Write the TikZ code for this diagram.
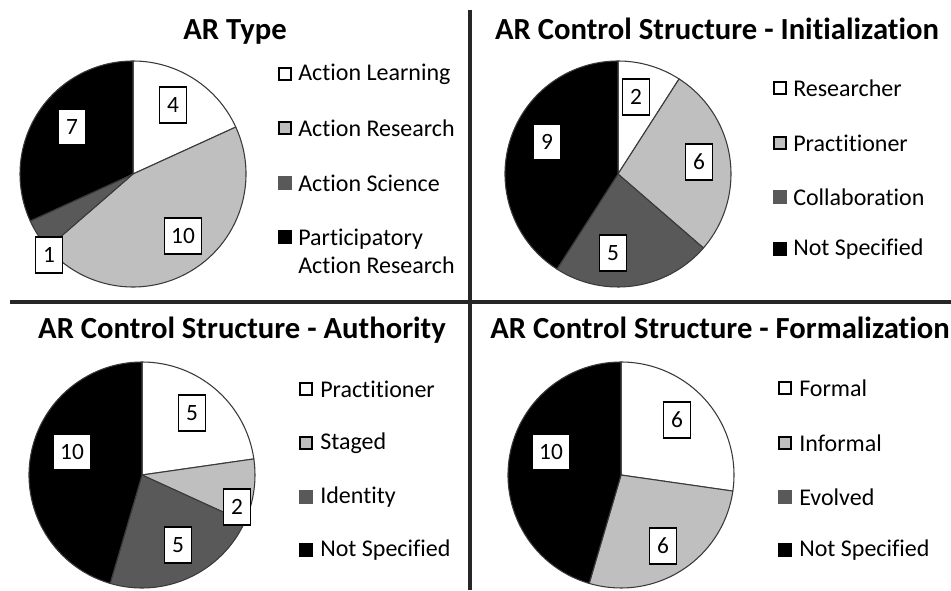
\documentclass[tikz,border=0pt]{standalone}
\usepackage{fontspec}
\setmainfont{Carlito}[Ligatures=NoCommon]
\definecolor{lgray}{HTML}{BFBFBF}
\definecolor{dgray}{HTML}{595959}
\definecolor{edge}{HTML}{3A3A3A}
\begin{document}
\begin{tikzpicture}[x=0.75pt,y=0.75pt,
  slice/.style={draw=edge,line width=0.8pt,line join=round},
  numbox/.style={draw=black,fill=white,line width=0.9pt,font=\fontsize{17.5}{19}\selectfont,
    minimum height=27pt,minimum width=20pt,inner xsep=5pt},
  legsq/.style={draw=black,line width=1.1pt,minimum size=9pt,inner sep=0pt},
  legtxt/.style={anchor=west,font=\fontsize{18}{21}\selectfont,inner sep=0pt},
  ttl/.style={font=\bfseries\fontsize{23}{26}\selectfont,inner sep=0pt},
  divider/.style={draw=black!85,line width=2.6pt}]
\useasboundingbox (0,0) rectangle (951,590);
\def\R{84.75pt}
% centres
\coordinate (p1) at (133,416);
\coordinate (p2) at (618,416);
\coordinate (p3) at (142,115);
\coordinate (p4) at (621,115);
% dividers
\coordinate (vt) at (470,580);
\coordinate (vb) at (470,0);
\coordinate (hl) at (10,288);
\coordinate (hr) at (951,288);
\draw[divider] (vt) -- (vb);
\draw[divider] (hl) -- (hr);
% pie 1
\foreach \a/\b/\c in {90/24.545/white,24.545/-139.09/lgray,-139.09/-155.45/dgray,-155.45/-270/black}
  \filldraw[slice,fill=\c] (p1) -- ++(\a:\R) arc[start angle=\a,end angle=\b,radius=\R] -- cycle;
% pie 2
\foreach \a/\b/\c in {90/57.27/white,57.27/-40.91/lgray,-40.91/-122.73/dgray,-122.73/-270/black}
  \filldraw[slice,fill=\c] (p2) -- ++(\a:\R) arc[start angle=\a,end angle=\b,radius=\R] -- cycle;
% pie 3
\foreach \a/\b/\c in {90/8.18/white,8.18/-24.55/lgray,-24.55/-106.36/dgray,-106.36/-270/black}
  \filldraw[slice,fill=\c] (p3) -- ++(\a:\R) arc[start angle=\a,end angle=\b,radius=\R] -- cycle;
% pie 4
\foreach \a/\b/\c in {90/-8.18/white,-8.18/-106.36/lgray,-106.36/-270/black}
  \filldraw[slice,fill=\c] (p4) -- ++(\a:\R) arc[start angle=\a,end angle=\b,radius=\R] -- cycle;
% value labels
\node[numbox] (n11) at (173,485) {4};
\node[numbox] (n12) at (183,354) {10};
\node[numbox] (n13) at (49,335) {1};
\node[numbox] (n14) at (72,463) {7};
\node[numbox] (n21) at (636,493) {2};
\node[numbox] (n22) at (699,428) {6};
\node[numbox] (n23) at (613,337) {5};
\node[numbox] (n24) at (547,448) {9};
\node[numbox] (n31) at (192,177) {5};
\node[numbox] (n32) at (237,83) {2};
\node[numbox] (n33) at (178,45) {5};
\node[numbox] (n34) at (72,138) {10};
\node[numbox] (n41) at (677,170) {6};
\node[numbox] (n42) at (663,44) {6};
\node[numbox] (n44) at (551,138) {10};
% titles
\node[ttl] (t1) at (235,558) {AR Type};
\node[ttl] (t2) at (717,561) {AR Control Structure - Initialization};
\node[ttl] (t3) at (242,260) {AR Control Structure - Authority};
\node[ttl,anchor=west] (t4) at (490,262) {AR Control Structure - Formalization};
% legend 1
\node[legsq,fill=white] (s11) at (285,516) {};
\node[legtxt] (l11) at (298,516) {Action Learning};
\node[legsq,fill=lgray] (s12) at (285,462) {};
\node[legtxt] (l12) at (298,462) {Action Research};
\node[legsq,fill=dgray,draw=dgray] (s13) at (285,407) {};
\node[legtxt] (l13) at (298,407) {Action Science};
\node[legsq,fill=black] (s14) at (285,353) {};
\node[legtxt,align=left] (l14) at (298,339) {Participatory\\Action Research};
% legend 2
\node[legsq,fill=white] (s21) at (780,502) {};
\node[legtxt] (l21) at (793,502) {Researcher};
\node[legsq,fill=lgray] (s22) at (780,447) {};
\node[legtxt] (l22) at (793,447) {Practitioner};
\node[legsq,fill=dgray,draw=dgray] (s23) at (780,393) {};
\node[legtxt] (l23) at (793,393) {Collaboration};
\node[legsq,fill=black] (s24) at (780,341) {};
\node[legtxt] (l24) at (793,341) {Not Specified};
% legend 3
\node[legsq,fill=white] (s31) at (306,201) {};
\node[legtxt] (l31) at (320,201) {Practitioner};
\node[legsq,fill=lgray] (s32) at (306,147) {};
\node[legtxt] (l32) at (320,147) {Staged};
\node[legsq,fill=dgray,draw=dgray] (s33) at (306,93) {};
\node[legtxt] (l33) at (320,93) {Identity};
\node[legsq,fill=black] (s34) at (306,40) {};
\node[legtxt] (l34) at (320,40) {Not Specified};
% legend 4
\node[legsq,fill=white] (s41) at (785,202) {};
\node[legtxt] (l41) at (799,202) {Formal};
\node[legsq,fill=lgray] (s42) at (785,147) {};
\node[legtxt] (l42) at (799,147) {Informal};
\node[legsq,fill=dgray,draw=dgray] (s43) at (785,93) {};
\node[legtxt] (l43) at (799,93) {Evolved};
\node[legsq,fill=black] (s44) at (785,40) {};
\node[legtxt] (l44) at (799,40) {Not Specified};
\end{tikzpicture}
\end{document}
